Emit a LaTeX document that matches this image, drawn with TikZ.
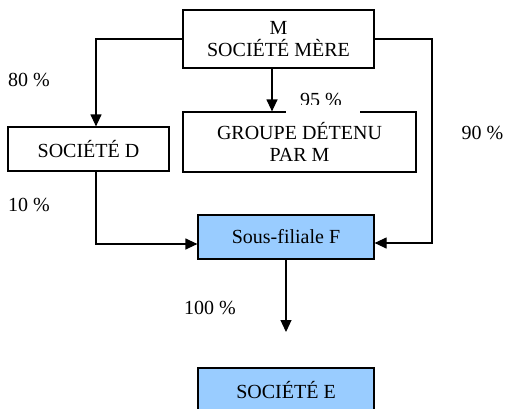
\documentclass[tikz,border=0pt]{standalone}
\usepackage{fontspec}
\setmainfont{Liberation Serif}
\usetikzlibrary{arrows.meta}
\definecolor{boxblue}{RGB}{153,204,255}
\tikzset{
  every node/.style={font=\fontsize{20}{22}\selectfont},
  entity/.style={draw, line width=1.2pt, inner sep=0pt, align=center},
  shaded/.style={entity, fill=boxblue},
  link/.style={line width=1.2pt},
  arr/.style={link, -{Triangle[width=11pt,length=12pt]}},
  pct/.style={inner sep=0pt}
}
\begin{document}
\begin{tikzpicture}[x=1pt,y=-1pt]
  \useasboundingbox (0,0) rectangle (506,408);

  % companies
  \node[entity, minimum width=191pt, minimum height=58pt] (M) at (278.5,39) {M\\SOCIÉTÉ MÈRE};
  \node[entity, minimum width=233pt, minimum height=60pt] (G) at (299.5,142) {GROUPE DÉTENU\\PAR M};
  \node[entity, minimum width=161pt, minimum height=44pt] (D) at (88.5,149) {SOCIÉTÉ D};
  \node[shaded, minimum width=176pt, minimum height=44pt] (F) at (286,237) {Sous-filiale F};
  \node[shaded, minimum width=176pt, minimum height=44pt] (E) at (286,390) {SOCIÉTÉ E};

  % holdings
  \draw[arr] (M.west) -| ([xshift=7.5pt]D.north);
  \draw[arr] ([xshift=-6.5pt]M.south) -- ([xshift=-6.5pt]M.south |- G.north);
  \draw[arr] (M.east) -| (432,243) -- ([yshift=-6pt]F.east);
  \draw[arr] ([xshift=7.5pt]D.south) |- ([yshift=-7pt]F.west);
  \coordinate (Fdown) at (286,332);
  \draw[arr] (F.south) -- (Fdown);

  % percentages
  \node[pct] (p80) at (29,80) {80 \%};
  \node[pct] (p10) at (29,205) {10 \%};
  \node[pct] (p90) at (482.5,133) {90 \%};
  \node[pct] (p100) at (210,308) {100 \%};
  \node[pct] (p95) at (321,99.5) {95 \%};
  % label background hiding part of the box edge and the label's foot
  \fill[white] (286,105) rectangle (360,113.5);
\end{tikzpicture}
\end{document}
